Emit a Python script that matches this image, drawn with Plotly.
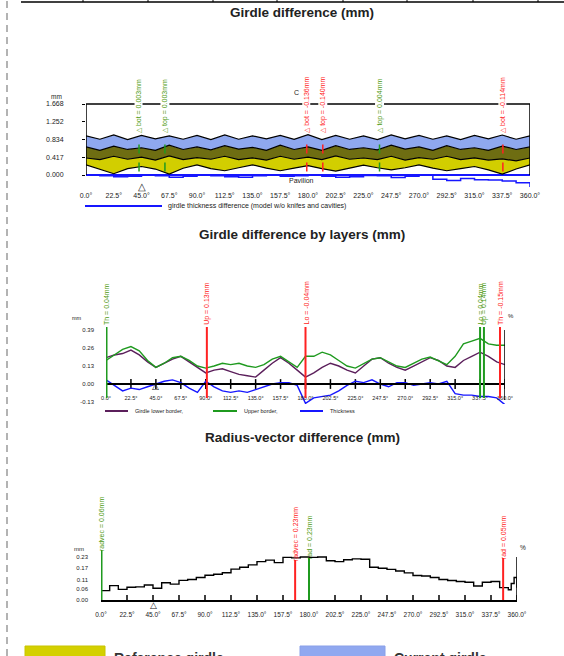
import plotly.graph_objects as go

W, H = 564, 656
def fx(px): return px / W
def fy(py): return 1 - py / H

FONT = "Liberation Sans, Arial, sans-serif"
YELLOW = "#d2ce00"
OLIVE = "#6e6d12"
BLUE = "#8fa8ef"
GREEN_L = "#1f9a1f"
GREEN_T = "#4f9a10"
RED = "#ff2222"
TBLUE = "#1616ff"
PURPLE = "#5b1f5b"

# ---------------- shared x ticks ----------------
tick_deg = [0, 22.5, 45, 67.5, 90, 112.5, 135, 157.5, 180, 202.5, 225, 247.5, 270, 292.5, 315, 337.5, 360]
tick_lbl = ["0.0°", "22.5°", "45.0°", "67.5°", "90.0°", "112.5°", "135.0°", "157.5°", "180.0°",
            "202.5°", "225.0°", "247.5°", "270.0°", "292.5°", "315.0°", "337.5°", "360.0°"]

# ---------------- chart 1: girdle difference ----------------
deg1 = [0, 11.25, 22.5, 33.75, 45, 56.25, 67.5, 78.75, 90, 101.25, 112.5, 123.75, 135, 146.25, 157.5, 168.75,
        180, 191.25, 202.5, 213.75, 225, 236.25, 247.5, 258.75, 270, 281.25, 292.5, 303.75, 315, 326.25, 337.5, 348.75, 360]
ref_bottom = [0.24, 0.14, 0.03, 0.15, 0.20, 0.14, 0.02, 0.16, 0.24, 0.15, 0.10, 0.17, 0.24, 0.16, 0.10, 0.16,
              0.22, 0.15, 0.09, 0.16, 0.23, 0.17, 0.12, 0.17, 0.24, 0.16, 0.10, 0.15, 0.20, 0.12, 0.02, 0.14, 0.24]
cur_bottom = [0.40, 0.36, 0.44, 0.37, 0.42, 0.35, 0.45, 0.36, 0.41, 0.37, 0.44, 0.36, 0.40, 0.35, 0.44, 0.37,
              0.42, 0.36, 0.45, 0.37, 0.40, 0.36, 0.44, 0.35, 0.41, 0.37, 0.44, 0.36, 0.40, 0.35, 0.38, 0.33, 0.40]
ref_top = [0.66, 0.58, 0.68, 0.60, 0.64, 0.58, 0.70, 0.60, 0.66, 0.59, 0.69, 0.61, 0.65, 0.58, 0.70, 0.60,
           0.66, 0.58, 0.69, 0.60, 0.64, 0.59, 0.70, 0.61, 0.66, 0.58, 0.69, 0.60, 0.64, 0.58, 0.68, 0.60, 0.66]
cur_top = [0.92, 0.84, 0.94, 0.83, 0.93, 0.85, 0.92, 0.84, 0.93, 0.83, 0.94, 0.84, 0.92, 0.85, 0.93, 0.84,
           0.95, 0.83, 0.93, 0.84, 0.92, 0.83, 0.94, 0.85, 0.93, 0.84, 0.92, 0.83, 0.93, 0.85, 0.94, 0.84, 0.92]
thick1 = [0.00, -0.02, -0.04, -0.03, 0.00, -0.02, -0.05, -0.03, 0.00, -0.02, -0.04, -0.05, -0.02, 0.00, -0.03, -0.02,
          0.00, -0.03, -0.05, -0.04, -0.01, -0.02, -0.06, -0.03, 0.00, -0.10, -0.13, -0.08, -0.11, -0.12, -0.14, -0.18, -0.28]
y1_ticks = [0.0, 0.417, 0.834, 1.251, 1.668]
y1_lbls = ["0.000", "0.417", "0.834", "1.252", "1.668"]
mk1_deg = [43, 64, 179, 192, 238, 338]
mk1_col = ["g", "g", "r", "r", "g", "r"]
mk1_txt = ["△ bot = 0.003mm", "△ top = 0.003mm", "△ bot = -0.136mm", "△ top = -0.140mm",
           "△ top = 0.004mm", "△ bot = -0.114mm"]

# ---------------- chart 2: by layers ----------------
deg2 = [0, 7.5, 15, 22.5, 30, 37.5, 45, 52.5, 60, 67.5, 75, 82.5, 90, 97.5, 105, 112.5, 120, 127.5, 135, 142.5,
        150, 157.5, 165, 172.5, 180, 187.5, 195, 202.5, 210, 217.5, 225, 232.5, 240, 247.5, 255, 262.5, 270,
        277.5, 285, 292.5, 300, 307.5, 315, 322.5, 330, 337.5, 345, 352.5, 360]
lower2 = [0.19, 0.21, 0.22, 0.245, 0.21, 0.16, 0.12, 0.15, 0.18, 0.20, 0.16, 0.12, 0.08, 0.10, 0.11, 0.09, 0.07,
          0.06, 0.05, 0.10, 0.15, 0.19, 0.15, 0.10, 0.05, 0.08, 0.12, 0.15, 0.13, 0.10, 0.08, 0.13, 0.18, 0.19,
          0.15, 0.12, 0.10, 0.13, 0.16, 0.19, 0.17, 0.13, 0.12, 0.17, 0.20, 0.23, 0.20, 0.16, 0.14]
upper2 = [0.17, 0.21, 0.25, 0.27, 0.24, 0.17, 0.12, 0.15, 0.19, 0.20, 0.17, 0.13, 0.115, 0.13, 0.15, 0.14, 0.15,
          0.13, 0.12, 0.14, 0.18, 0.20, 0.16, 0.12, 0.20, 0.20, 0.23, 0.21, 0.17, 0.13, 0.115, 0.15, 0.18, 0.19,
          0.16, 0.13, 0.12, 0.15, 0.18, 0.195, 0.17, 0.14, 0.20, 0.29, 0.31, 0.33, 0.29, 0.28, 0.28]
thick2 = [0.03, -0.01, -0.05, -0.03, -0.04, -0.02, 0.00, 0.02, 0.03, 0.01, -0.03, -0.06, 0.02, -0.02, -0.05,
          -0.06, -0.05, -0.06, -0.04, -0.02, 0.00, 0.01, 0.01, -0.01, -0.14, -0.10, -0.09, -0.08, -0.05, -0.01,
          0.02, 0.01, 0.03, 0.00, -0.02, 0.01, 0.01, -0.01, 0.00, 0.01, 0.00, 0.02, -0.07, -0.08, -0.08, -0.09,
          -0.09, -0.10, -0.15]
y2_ticks = [-0.13, 0.0, 0.13, 0.26, 0.39]
y2_lbls = ["-0.13", "0.00", "0.13", "0.26", "0.39"]
y2_pct = ["-1.08", "0.00", "1.08", "2.16", "3.25"]
mk2_deg = [0, 91, 180, 337.5, 341, 355.5]
mk2_col = ["g", "r", "r", "g", "g", "r"]
mk2_txt = ["Th = 0.04mm", "Up = 0.13mm", "Lo = -0.04mm", "Lo = 0.04mm", "Up = 0.14mm", "Th = -0.15mm"]

# ---------------- chart 3: radius-vector ----------------
deg3 = [0, 7.5, 15, 22.5, 30, 37.5, 45, 52.5, 60, 67.5, 75, 82.5, 90, 97.5, 105, 112.5, 120, 127.5, 135, 142.5,
        150, 157.5, 165, 172.5, 180, 187.5, 195, 202.5, 210, 217.5, 225, 232.5, 240, 247.5, 255, 262.5, 270,
        277.5, 285, 292.5, 300, 307.5, 315, 322.5, 330, 337.5, 345, 352.5, 355, 357.5, 360]
rv3 = [0.050, 0.077, 0.057, 0.068, 0.070, 0.080, 0.063, 0.092, 0.085, 0.105, 0.110, 0.120, 0.132, 0.138, 0.146,
       0.165, 0.175, 0.188, 0.205, 0.213, 0.200, 0.228, 0.225, 0.230, 0.228, 0.230, 0.210, 0.205, 0.215, 0.220,
       0.218, 0.175, 0.170, 0.164, 0.155, 0.145, 0.131, 0.128, 0.120, 0.110, 0.104, 0.099, 0.095, 0.075, 0.095,
       0.099, 0.066, 0.055, 0.088, 0.120, 0.066]
y3_ticks = [0.0, 0.06, 0.11, 0.17, 0.23]
y3_lbls = ["0.00", "0.06", "0.11", "0.17", "0.23"]
y3_pct = ["0.00", "0.49", "0.97", "1.46", "1.94"]
mk3_deg = [0, 168, 180, 348]
mk3_col = ["g", "r", "g", "r"]
mk3_txt = ["radvec = 0.06mm", "radvec = 0.23mm", "rad = 0.23mm", "rad = 0.05mm"]

ZERO_TICKS = [0 for _ in tick_deg]

fig = go.Figure()
common = dict(mode="lines", showlegend=False, hoverinfo="skip")

# chart 1 stacked bands
fig.add_trace(go.Scatter(x=deg1, y=ref_bottom, line=dict(color="black", width=1.2), xaxis="x", yaxis="y", **common))
fig.add_trace(go.Scatter(x=deg1, y=cur_bottom, fill="tonexty", fillcolor=YELLOW,
                         line=dict(color="black", width=1.2), xaxis="x", yaxis="y", **common))
fig.add_trace(go.Scatter(x=deg1, y=ref_top, fill="tonexty", fillcolor=OLIVE,
                         line=dict(color="black", width=1.2), xaxis="x", yaxis="y", **common))
fig.add_trace(go.Scatter(x=deg1, y=cur_top, fill="tonexty", fillcolor=BLUE,
                         line=dict(color="black", width=1.2), xaxis="x", yaxis="y", **common))
fig.add_trace(go.Scatter(x=deg1, y=thick1, line=dict(color=TBLUE, width=1.5, shape="hv"),
                         xaxis="x", yaxis="y", **common))

tickmark = dict(symbol="line-ns-open", size=7, color="black", line=dict(color="black", width=1.5))

# chart 2 lines
fig.add_trace(go.Scatter(x=tick_deg, y=ZERO_TICKS, mode="markers", showlegend=False, hoverinfo="skip",
                         marker=tickmark, xaxis="x2", yaxis="y3"))
fig.add_trace(go.Scatter(x=deg2, y=lower2, line=dict(color=PURPLE, width=1.4), xaxis="x2", yaxis="y3", **common))
fig.add_trace(go.Scatter(x=deg2, y=upper2, line=dict(color=GREEN_L, width=1.4), xaxis="x2", yaxis="y3", **common))
fig.add_trace(go.Scatter(x=deg2, y=thick2, line=dict(color=TBLUE, width=1.4), xaxis="x2", yaxis="y3", **common))

# chart 3 line
fig.add_trace(go.Scatter(x=tick_deg, y=ZERO_TICKS, mode="markers", showlegend=False, hoverinfo="skip",
                         marker=tickmark, xaxis="x3", yaxis="y5"))
fig.add_trace(go.Scatter(x=deg3, y=rv3, line=dict(color="black", width=1.4, shape="hv"),
                         xaxis="x3", yaxis="y5", **common))

tf = lambda s: dict(size=s, family=FONT, color="#222")
noaxis = dict(showgrid=False, zeroline=False, automargin=False)

layout = dict(
    width=W, height=H, autosize=False,
    margin=dict(l=0, r=0, t=0, b=0, pad=0),
    paper_bgcolor="white", plot_bgcolor="rgba(0,0,0,0)",
    # chart 1
    xaxis=dict(domain=[fx(86), fx(530)], range=[0, 360], anchor="y", tickvals=tick_deg, ticktext=tick_lbl,
               tickfont=tf(7), ticks="", showline=False, **noaxis),
    yaxis=dict(domain=[fy(190), fy(100)], range=[-0.352, 1.762], anchor="x", tickvals=y1_ticks, ticktext=y1_lbls,
               tickfont=tf(7), ticks="outside", ticklen=3, tickcolor="black", showline=False,
               showgrid=False, zeroline=True, zerolinecolor=TBLUE, zerolinewidth=2, automargin=False,
               ticklabelstandoff=17),
    yaxis2=dict(overlaying="y", side="right", anchor="x", range=[-0.352, 1.762], tickvals=y1_ticks,
                ticktext=y1_lbls, tickfont=tf(7), ticks="outside", ticklen=3, tickcolor="black",
                showline=False, **noaxis),
    # chart 2
    xaxis2=dict(domain=[fx(106), fx(505)], range=[0, 360], anchor="free", position=fy(384), tickvals=tick_deg,
                ticktext=tick_lbl, tickfont=tf(5.5), ticks="", showline=True, linecolor="black", linewidth=1.5,
                ticklabelstandoff=9, **noaxis),
    yaxis3=dict(domain=[fy(404), fy(326)], range=[-0.1444, 0.419], anchor="x2", tickvals=y2_ticks,
                ticktext=y2_lbls, tickfont=tf(6), ticks="", showline=False, ticklabelstandoff=11, **noaxis),
    yaxis4=dict(overlaying="y3", side="right", anchor="x2", range=[-0.1444, 0.419], tickvals=y2_ticks,
                ticktext=y2_pct, tickfont=tf(6), ticks="", showline=False, **noaxis),
    # chart 3
    xaxis3=dict(domain=[fx(101), fx(517)], range=[0, 360], anchor="y5", tickvals=tick_deg, ticktext=tick_lbl,
                tickfont=tf(6.5), ticks="", showline=True, linecolor="black", linewidth=1.5,
                ticklabelstandoff=7, **noaxis),
    yaxis5=dict(domain=[fy(600), fy(553)], range=[0, 0.2513], anchor="x3", tickvals=y3_ticks, ticktext=y3_lbls,
                tickfont=tf(6), ticks="", showline=False, ticklabelstandoff=12, **noaxis),
    yaxis6=dict(overlaying="y5", side="right", anchor="x3", range=[0, 0.2513], tickvals=y3_ticks,
                ticktext=y3_pct, tickfont=tf(6), ticks="inside", ticklen=3, tickcolor="black",
                showline=False, **noaxis),
)
fig.update_layout(**layout)

shapes = []
ann = []

def col_line(c):
    return GREEN_L if c == "g" else RED

def col_text(c):
    return GREEN_T if c == "g" else RED

def A(**kw):
    d = dict(showarrow=False, xanchor="center", yanchor="middle")
    d.update(kw)
    ann.append(d)

# page decorations
shapes.append(dict(type="line", xref="paper", yref="paper", x0=fx(7), x1=fx(7), y0=0, y1=1,
                   line=dict(color="#9a9a9a", width=1.5, dash="7px,5px")))
shapes.append(dict(type="line", xref="paper", yref="paper", x0=fx(21), x1=1, y0=fy(2), y1=fy(2),
                   line=dict(color="black", width=1.5)))
for px in [83, 148, 213, 277, 343, 407, 473, 538]:
    shapes.append(dict(type="line", xref="paper", yref="paper", x0=fx(px), x1=fx(px), y0=fy(2), y1=1,
                       line=dict(color="black", width=1)))

# titles
for txt, py in [("Girdle difference (mm)", 12), ("Girdle difference by layers (mm)", 235),
                ("Radius-vector difference (mm)", 437)]:
    A(text="<b>%s</b>" % txt, xref="paper", yref="paper", x=fx(302), y=fy(py),
      font=dict(size=13.5, family=FONT, color="#222"))

# ---- chart 1 decorations
shapes.append(dict(type="line", xref="x", yref="y", x0=0, x1=360, y0=y1_ticks[-1], y1=y1_ticks[-1],
                   line=dict(color="black", width=1.5), layer="below"))
shapes.append(dict(type="line", xref="x", yref="y", x0=0, x1=0, y0=0, y1=y1_ticks[-1],
                   line=dict(color="black", width=1.5)))
shapes.append(dict(type="line", xref="x", yref="y", x0=360, x1=360, y0=0, y1=y1_ticks[-1],
                   line=dict(color="black", width=1.5)))
for d, c, t in zip(mk1_deg, mk1_col, mk1_txt):
    shapes.append(dict(type="line", xref="x", yref="y", x0=d, x1=d, y0=0.08, y1=0.78,
                       line=dict(color=col_line(c), width=1.5, dash="dash")))
    A(text=t, xref="x", yref="paper", x=d, y=fy(134), yanchor="bottom", textangle=-90,
      bgcolor="white", borderpad=0, font=dict(size=7, family=FONT, color=col_text(c)))
A(text="mm", xref="paper", yref="paper", x=fx(56), y=fy(96), font=tf(6.5))
A(text="C", xref="paper", yref="paper", x=fx(296), y=fy(93), font=tf(7))
A(text="Pavilion", xref="paper", yref="paper", x=fx(301), y=fy(180), font=tf(7))
A(text="△", xref="x", yref="paper", x=45, y=fy(186), font=dict(size=10, color="#222"))
shapes.append(dict(type="line", xref="paper", yref="paper", x0=fx(85), x1=fx(162), y0=fy(206), y1=fy(206),
                   line=dict(color=TBLUE, width=2)))
A(text="girdle thickness difference (model w/o knifes and cavities)", xref="paper", yref="paper",
  x=fx(166), y=fy(206), xanchor="left", font=tf(7))

# ---- chart 2 decorations
shapes.append(dict(type="line", xref="x2", yref="paper", x0=0, x1=0, y0=fy(395), y1=fy(330),
                   line=dict(color="black", width=2)))
shapes.append(dict(type="line", xref="x2", yref="paper", x0=360, x1=360, y0=fy(400), y1=fy(330),
                   line=dict(color="black", width=1.5)))
for d, c, t in zip(mk2_deg, mk2_col, mk2_txt):
    shapes.append(dict(type="line", xref="x2", yref="paper", x0=d, x1=d, y0=fy(398), y1=fy(327),
                       line=dict(color=col_line(c), width=2 if d > 0 else 3)))
    A(text=t, xref="x2", yref="paper", x=d, y=fy(326), yanchor="bottom", textangle=-90,
      borderpad=0, font=dict(size=7, family=FONT, color=col_text(c)))
A(text="mm", xref="paper", yref="paper", x=fx(77), y=fy(318), font=tf(5.5))
A(text="%", xref="paper", yref="paper", x=fx(511), y=fy(316), font=tf(6))
A(text="△", xref="x2", yref="paper", x=45, y=fy(385), font=dict(size=9, color="#222"))
for x0, x1, c, t in [(105, 128, PURPLE, "Girdle lower border,"), (213, 237, GREEN_L, "Upper border,"),
                     (300, 323, TBLUE, "Thickness")]:
    shapes.append(dict(type="line", xref="paper", yref="paper", x0=fx(x0), x1=fx(x1), y0=fy(411), y1=fy(411),
                       line=dict(color=c, width=2)))
    A(text=t, xref="paper", yref="paper", x=fx(x1 + 5), y=fy(411), xanchor="left", font=tf(5.5))

# ---- chart 3 decorations
shapes.append(dict(type="line", xref="x3", yref="y5", x0=0, x1=0, y0=0, y1=y3_ticks[-1],
                   line=dict(color="black", width=2)))
shapes.append(dict(type="line", xref="x3", yref="y5", x0=360, x1=360, y0=0, y1=y3_ticks[-1],
                   line=dict(color="black", width=1.5)))
for d, c, t, pb in zip(mk3_deg, mk3_col, mk3_txt, [552, 562, 560, 560]):
    shapes.append(dict(type="line", xref="x3", yref="paper", x0=d, x1=d, y0=fy(600), y1=fy(pb - 2),
                       line=dict(color=col_line(c), width=3 if d == 0 else 2)))
    A(text=t, xref="x3", yref="paper", x=d, y=fy(pb), yanchor="bottom", textangle=-90,
      borderpad=0, font=dict(size=7, family=FONT, color=col_text(c)))
A(text="mm", xref="paper", yref="paper", x=fx(79), y=fy(549), font=tf(6))
A(text="%", xref="paper", yref="paper", x=fx(523), y=fy(547), font=tf(6.5))
A(text="△", xref="x3", yref="paper", x=45, y=fy(604), font=dict(size=9, color="#222"))

# ---- bottom legend (cut off by page edge)
shapes.append(dict(type="rect", xref="paper", yref="paper", x0=fx(25), x1=fx(105), y0=fy(664), y1=fy(646),
                   fillcolor="#d4d000", line=dict(color="#c8c400", width=1)))
shapes.append(dict(type="rect", xref="paper", yref="paper", x0=fx(300), x1=fx(385), y0=fy(664), y1=fy(646),
                   fillcolor="#90a8f0", line=dict(color="#8aa0e8", width=1)))
A(text="<b>Reference girdle</b>", xref="paper", yref="paper", x=fx(112), y=fy(648),
  xanchor="left", yanchor="top", font=dict(size=14, family=FONT, color="#333"))
A(text="<b>Current girdle</b>", xref="paper", yref="paper", x=fx(392), y=fy(648),
  xanchor="left", yanchor="top", font=dict(size=14, family=FONT, color="#333"))

fig.update_layout(shapes=shapes, annotations=ann)
fig.write_html("out.html", config={"displayModeBar": False},
               post_script="document.body.style.margin='0';document.body.style.overflow='hidden';")
